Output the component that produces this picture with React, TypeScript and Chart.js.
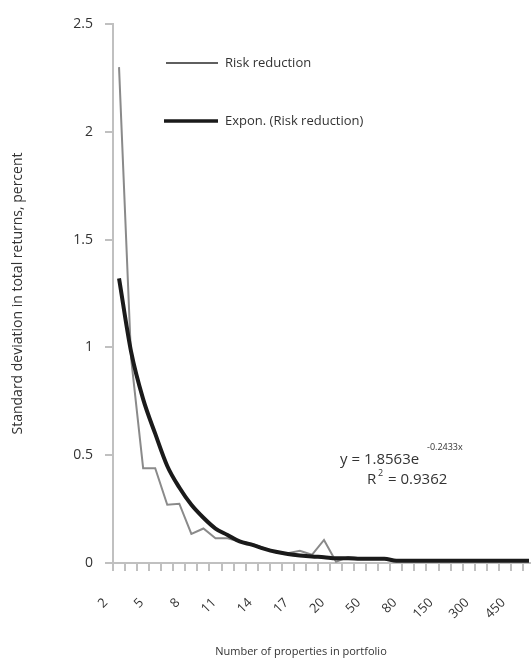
import React, { useEffect, useRef } from "react";
import { Chart, registerables } from "chart.js";

Chart.register(...registerables);

const categories: string[] = [
  "2", "3", "4", "5", "6", "7", "8", "9", "10", "11", "12", "13", "14", "15", "16", "17", "18", "19", "20",
  "30", "40", "50", "60", "70", "80", "100", "125", "150", "200", "250", "300", "350", "400", "450", "500",
];

const riskReduction: number[] = [
  2.3, 0.95, 0.44, 0.44, 0.27, 0.275, 0.135, 0.16, 0.115, 0.115, 0.1, 0.09, 0.07, 0.05, 0.045, 0.057, 0.038, 0.107, 0.006,
  0.028, 0.022, 0.022, 0.022, 0.01, 0.01, 0.01, 0.01, 0.01, 0.01, 0.01, 0.01, 0.01, 0.01, 0.01, 0.01,
];

const exponTrend: number[] = [
  1.32, 0.98, 0.76, 0.6, 0.45, 0.35, 0.27, 0.21, 0.16, 0.13, 0.1, 0.085, 0.067, 0.052, 0.042, 0.035, 0.03, 0.027, 0.022,
  0.022, 0.02, 0.02, 0.02, 0.01, 0.01, 0.01, 0.01, 0.01, 0.01, 0.01, 0.01, 0.01, 0.01, 0.01, 0.01,
];

const yTicks: number[] = [0, 0.5, 1, 1.5, 2, 2.5];
const labelEvery = 3;

const seriesNames = ["Risk reduction", "Expon. (Risk reduction)"];
const xTitle = "Number of properties in portfolio";
const yTitle = "Standard deviation in total returns, percent";
const equationMain = "y = 1.8563e";
const equationExp = "-0.2433x";
const rSquared = "0.9362";

const FONT = "'Open Sans', 'Noto Sans', sans-serif";
const TEXT = "#333333";
const AXIS = "#c0c0c0";

const overlayPlugin = {
  id: "overlay",
  afterDraw(chart: any) {
    const ctx = chart.ctx as CanvasRenderingContext2D;
    ctx.save();

    // rotated category labels, placed from the x scale
    const xs = chart.scales.x;
    const tickFont = 13;
    ctx.font = `${tickFont}px ${FONT}`;
    ctx.fillStyle = TEXT;
    ctx.textAlign = "right";
    ctx.textBaseline = "middle";
    categories.forEach((lab, i) => {
      if (i % labelEvery !== 0) return;
      const px = xs.getPixelForValue(i) - 19;
      const py = xs.top + 32;
      ctx.save();
      ctx.translate(px, py);
      ctx.rotate(-Math.PI / 4);
      ctx.fillText(lab, 0, (tickFont * 1.2) / 2);
      ctx.restore();
    });

    // legend
    const ds = chart.data.datasets;
    const legendRows = [
      { y: 63, x1: 166, x2: 218, w: 1.5, color: "#2a2a2a", label: ds[1].label },
      { y: 121, x1: 164, x2: 218, w: 3.5, color: "#1a1a1a", label: ds[0].label },
    ];
    ctx.font = `13px ${FONT}`;
    ctx.textBaseline = "middle";
    ctx.textAlign = "left";
    for (const r of legendRows) {
      ctx.strokeStyle = r.color;
      ctx.lineWidth = r.w;
      ctx.beginPath();
      ctx.moveTo(r.x1, r.y);
      ctx.lineTo(r.x2, r.y);
      ctx.stroke();
      ctx.fillStyle = TEXT;
      ctx.fillText(r.label, 225, r.y);
    }

    // trendline equation
    ctx.fillStyle = TEXT;
    ctx.font = `15px ${FONT}`;
    ctx.fillText(equationMain, 340, 460);
    ctx.font = `9px ${FONT}`;
    ctx.fillText(equationExp, 427, 447);
    ctx.font = `15px ${FONT}`;
    ctx.fillText("R", 367, 480);
    ctx.font = `9px ${FONT}`;
    ctx.fillText("2", 378, 473);
    ctx.font = `15px ${FONT}`;
    ctx.fillText("= " + rSquared, 388, 480);

    // x title
    ctx.font = `11px ${FONT}`;
    ctx.textAlign = "center";
    ctx.fillText(xTitle, 301, 652);
    ctx.restore();
  },
};

export default function App() {
  const ref = useRef<HTMLCanvasElement | null>(null);

  useEffect(() => {
    if (!ref.current) return;
    const chart = new Chart(ref.current, {
      type: "line",
      data: {
        labels: categories,
        datasets: [
          {
            label: seriesNames[1],
            data: exponTrend,
            borderColor: "#1a1a1a",
            borderWidth: 4,
            pointRadius: 0,
            cubicInterpolationMode: "monotone",
            order: 1,
          },
          {
            label: seriesNames[0],
            data: riskReduction,
            borderColor: "#8a8a8a",
            borderWidth: 2,
            pointRadius: 0,
            tension: 0,
            order: 2,
          },
        ],
      },
      options: {
        responsive: false,
        animation: false,
        layout: { padding: { top: 24, right: 10, left: 0, bottom: 0 } },
        plugins: { legend: { display: false }, tooltip: { enabled: false } },
        scales: {
          x: {
            type: "category",
            offset: true,
            afterFit: (s: any) => {
              s.height = 98;
            },
            grid: {
              offset: true,
              drawOnChartArea: false,
              drawTicks: true,
              tickLength: 8,
              color: AXIS,
              lineWidth: 2,
            },
            border: { color: AXIS, width: 2 },
            ticks: {
              display: false,
              autoSkip: false,
            },
          },
          y: {
            min: 0,
            max: 2.5,
            afterFit: (s: any) => {
              s.width = 113;
            },
            afterBuildTicks: (s: any) => {
              s.ticks = yTicks.map((v) => ({ value: v }));
            },
            grid: {
              drawOnChartArea: false,
              drawTicks: true,
              tickLength: 8,
              color: AXIS,
              lineWidth: 2,
            },
            border: { color: AXIS, width: 2 },
            ticks: {
              padding: 12,
              color: TEXT,
              font: { family: FONT, size: 14 },
              callback: (v: any) => String(v),
            },
            title: {
              display: true,
              text: yTitle,
              color: TEXT,
              font: { family: FONT, size: 14 },
              padding: { top: 10, bottom: 0 },
            },
          },
        },
      },
      plugins: [overlayPlugin],
    });
    return () => chart.destroy();
  }, []);

  return (
    <div style={{ position: "fixed", left: 0, top: 0, width: 531, height: 661, overflow: "hidden", background: "#fff" }}>
      <canvas ref={ref} width={545} height={661} style={{ display: "block" }} />
    </div>
  );
}
